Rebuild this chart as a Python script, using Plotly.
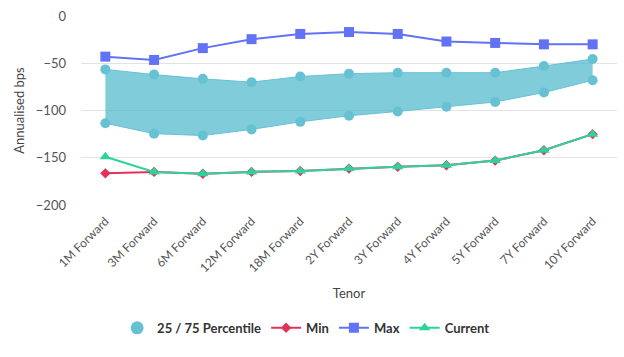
import plotly.graph_objects as go

tenors = ["1M Forward", "3M Forward", "6M Forward", "12M Forward", "18M Forward",
          "2Y Forward", "3Y Forward", "4Y Forward", "5Y Forward", "7Y Forward", "10Y Forward"]
p75 = [-56.5, -62, -66.5, -70, -64, -61, -60, -60, -60, -53, -45.5]
p25 = [-113.5, -124.5, -126.5, -120, -112, -105.5, -101, -96, -91, -81, -68]
min_vals = [-166.5, -165, -167, -165, -164, -161.5, -159.5, -158, -153, -142, -125]
max_vals = [-43, -46.5, -34, -24.5, -19, -17, -19, -27, -28.5, -30, -30]
current = [-149, -165, -167, -165, -164, -161.5, -159.5, -158, -153, -142, -125]

band_c = "#66c2d3"
min_c = "#e0335a"
max_c = "#6272f5"
cur_c = "#2ed39b"

FONT = "Lato, Open Sans, sans-serif"

fig = go.Figure()
fig.add_trace(go.Scatter(x=tenors, y=p75, mode="lines+markers", line=dict(color=band_c, width=1),
                         marker=dict(color=band_c, size=10, symbol="circle"), showlegend=False,
                         hoverinfo="skip"))
fig.add_trace(go.Scatter(x=tenors, y=p25, mode="lines+markers", line=dict(color=band_c, width=1),
                         marker=dict(color=band_c, size=10, symbol="circle"), fill="tonexty",
                         fillcolor="rgba(80,184,204,0.72)", showlegend=False))
fig.add_trace(go.Scatter(x=[None], y=[None], mode="markers", name="25 / 75 Percentile",
                         marker=dict(color=band_c, size=13, symbol="circle")))
fig.add_trace(go.Scatter(x=tenors, y=min_vals, mode="lines+markers", name="Min",
                         line=dict(color=min_c, width=2), marker=dict(color=min_c, size=8, symbol="diamond")))
fig.add_trace(go.Scatter(x=tenors, y=max_vals, mode="lines+markers", name="Max",
                         line=dict(color=max_c, width=2), marker=dict(color=max_c, size=10, symbol="square")))
fig.add_trace(go.Scatter(x=tenors, y=current, mode="lines+markers", name="Current",
                         line=dict(color=cur_c, width=2), marker=dict(color=cur_c, size=10, symbol="triangle-up")))

fig.update_layout(
    width=624, height=357,
    margin=dict(l=81, r=7, t=16, b=152, autoexpand=False),
    paper_bgcolor="white", plot_bgcolor="white",
    font=dict(family=FONT, color="#555555", size=12),
    legend=dict(orientation="h", x=0.42, xanchor="center", y=-0.65, yanchor="middle",
                traceorder="normal",
                font=dict(family=FONT, size=13, color="#333333", weight="bold"),
                itemsizing="trace", tracegroupgap=0, itemwidth=30),
)
fig.update_xaxes(
    type="category", range=[-0.5, 10.5], tickangle=-45, showgrid=False, zeroline=False,
    automargin=False, showline=False, ticks="", tickfont=dict(size=12, color="#555555"),
    ticklabelstandoff=6,
    title=dict(text="Tenor", font=dict(size=13, color="#444444"), standoff=14),
)
fig.update_yaxes(
    range=[-200, 0], tickvals=[0, -50, -100, -150, -200], ticktext=["0", "−50", "−100", "−150", "−200"],
    showgrid=True, gridcolor="#e3e3e3", gridwidth=1, zeroline=False, automargin=False,
    tickfont=dict(size=13, color="#555555"), ticks="", ticklabelstandoff=14,
    title=dict(text="Annualised bps", font=dict(size=13, color="#444444"), standoff=8),
)
fig.write_html("out.html", config={"displayModeBar": False},
               post_script="document.body.style.margin='0';document.body.style.padding='0';")
